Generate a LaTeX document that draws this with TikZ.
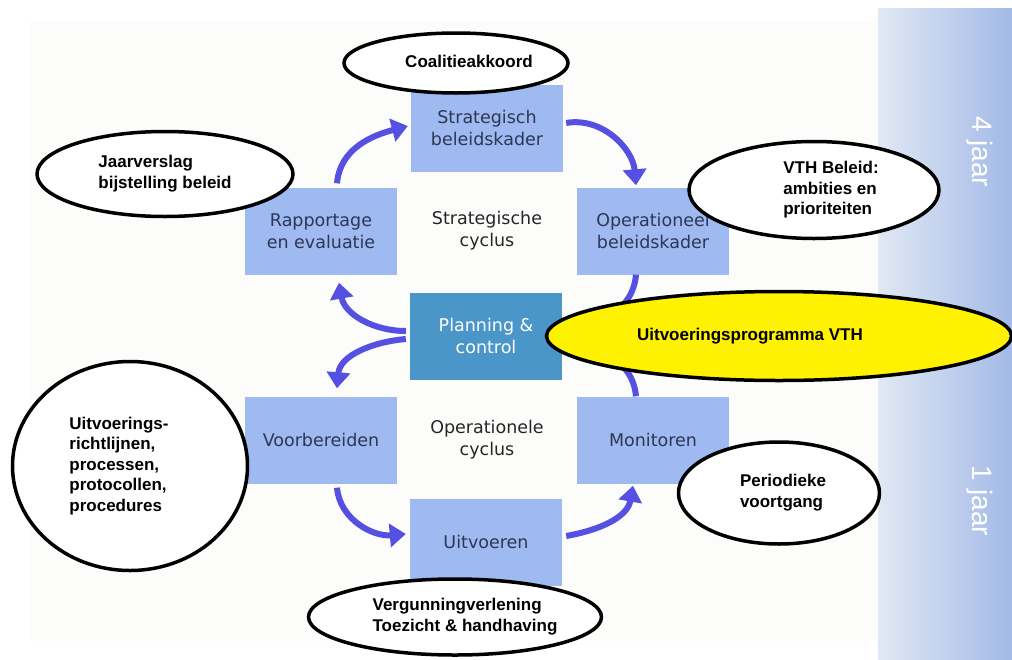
\documentclass[tikz,border=0pt]{standalone}
\usepackage{fontspec}
\setmainfont{Liberation Sans}
\newfontfamily\stapfont{DejaVu Sans}
\usetikzlibrary{arrows.meta,shapes.geometric,positioning}

\definecolor{stapblauw}{RGB}{158,186,240}
\definecolor{pcblauw}{RGB}{74,150,200}
\definecolor{pijlblauw}{RGB}{86,80,226}
\definecolor{staptekst}{RGB}{45,55,85}
\definecolor{bandlicht}{RGB}{225,232,245}
\definecolor{banddonker}{RGB}{163,186,230}
\definecolor{achtergrond}{RGB}{252,252,251}

% tekst in een wolk, met wat ruimte links of rechts
\newcommand{\wolktekst}[3]{\hspace*{#1}\begin{tabular}{@{}l@{}}#3\end{tabular}\hspace*{#2}}

\tikzset{
  stap/.style={fill=stapblauw, minimum width=152pt, minimum height=87pt,
    inner sep=0pt, align=center, text=staptekst,
    font=\stapfont\fontsize{17.5}{22}\selectfont},
  cyclus/.style={align=center, text=black!85,
    font=\stapfont\fontsize{17.5}{22}\selectfont},
  pijl/.style={draw=pijlblauw, line width=6pt,
    -{Triangle[length=16pt,width=23pt]}},
  wolk/.style={ellipse, draw=black, line width=3.5pt, fill=white,
    inner sep=0pt, font=\bfseries\fontsize{17}{20.5}\selectfont},
  jaar/.style={rotate=-90, text=white, font=\fontsize{28}{28}\selectfont}
}

\begin{document}
\begin{tikzpicture}[x=1pt,y=-1pt]
  \useasboundingbox (0,0) rectangle (1012,659);
  % achtergrond en tijdsbalk
  \fill[achtergrond] (30,22) rectangle (876,641);
  \shade[left color=bandlicht, right color=banddonker] (878,8) rectangle (1012,659);
  \node[jaar] (vierjaar) at (980,152) {4 jaar};
  \node[jaar] (eenjaar) at (980,501) {1 jaar};

  % stappen
  \node[stap] (strat) at (487,128) {Strategisch\\beleidskader};
  \node[stap] (rapp) at (321,231) {Rapportage\\en evaluatie};
  \node[stap] (oper) at (653,231) {Operationeel\\beleidskader};
  \node[stap, fill=pcblauw, text=white] (pc) at (486,336) {Planning \&\\control};
  \node[stap] (voorb) at (321,440) {Voorbereiden};
  \node[stap] (monit) at (653,440) {Monitoren};
  \node[stap] (uitv) at (486,542) {Uitvoeren};
  \node[cyclus] (stratcyc) at (487,231) {Strategische\\cyclus};
  \node[cyclus] (opcyc) at (487,440) {Operationele\\cyclus};

  % pijlen
  \draw[pijl] ([xshift=16pt,yshift=4pt]rapp.north) to[out=85,in=195] ([xshift=-3pt,yshift=2pt]strat.west);
  \draw[pijl] ([xshift=3pt,yshift=5pt]strat.east) to[out=10,in=95] ([xshift=-17pt,yshift=2pt]oper.north);
  \draw[pijl] ([xshift=-17pt]oper.south) to[out=-95,in=20] (pc.east);
  \draw[pijl] ([xshift=-17pt]monit.north) to[out=95,in=-20] (pc.east);
  \draw[pijl] ([xshift=-4pt,yshift=5pt]pc.west) to[out=180,in=-80] ([xshift=18pt,yshift=-8pt]rapp.south);
  \draw[pijl] ([xshift=-4pt,yshift=-3pt]pc.west) to[out=185,in=85] ([xshift=16pt,yshift=8pt]voorb.north);
  \draw[pijl] ([xshift=16pt,yshift=-4pt]voorb.south) to[out=-85,in=185] ([xshift=-4pt,yshift=8pt]uitv.west);
  \draw[pijl] ([xshift=4pt,yshift=6pt]uitv.east) to[out=10,in=-100] ([xshift=-20pt,yshift=-2pt]monit.south);

  % wolken
  \node[wolk, minimum width=224pt, minimum height=60pt] (coal) at (456,63)
    {\wolktekst{26pt}{0pt}{Coalitieakkoord}};
  \node[wolk, minimum width=256pt, minimum height=85pt] (jaarv) at (165,174)
    {\wolktekst{0pt}{0pt}{Jaarverslag\\bijstelling beleid}};
  \node[wolk, minimum width=250pt, minimum height=97pt] (vth) at (814,190)
    {\wolktekst{34pt}{0pt}{VTH Beleid:\\ambities en\\prioriteiten}};
  \node[wolk, fill=yellow, minimum width=465pt, minimum height=89pt] (uprog) at (779,336)
    {\wolktekst{0pt}{58pt}{Uitvoeringsprogramma VTH}};
  \node[wolk, minimum width=235pt, minimum height=209pt] (richtl) at (130,466)
    {\wolktekst{0pt}{22pt}{Uitvoerings-\\richtlijnen,\\processen,\\protocollen,\\procedures}};
  \node[wolk, minimum width=201pt, minimum height=102pt] (voortg) at (779,493)
    {\wolktekst{8pt}{0pt}{Periodieke\\voortgang}};
  \node[wolk, minimum width=293pt, minimum height=76pt] (verg) at (455,617)
    {\wolktekst{20pt}{0pt}{Vergunningverlening\\Toezicht \& handhaving}};
\end{tikzpicture}
\end{document}
